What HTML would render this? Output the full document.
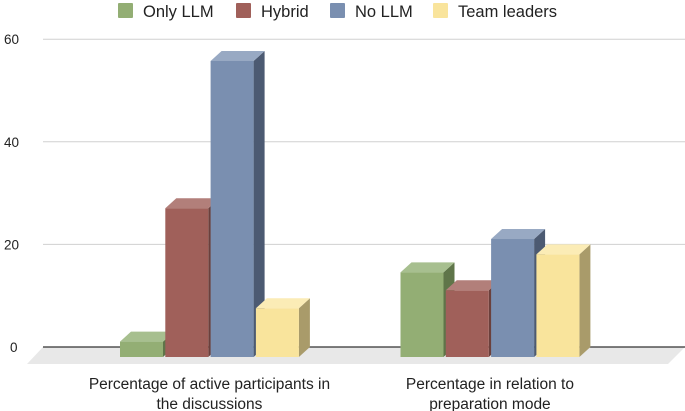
<!DOCTYPE html>
<html><head><meta charset="utf-8"><style>
html,body{margin:0;padding:0;background:#fff;}
svg{display:block;font-family:"Liberation Sans",sans-serif;}
</style></head><body>
<svg id="chart" width="685" height="411" viewBox="0 0 685 411"></svg>
<script>
const categories = ["Percentage of active participants in|the discussions", "Percentage in relation to|preparation mode"];
const seriesNames = ["Only LLM", "Hybrid", "No LLM", "Team leaders"];
const onlyLLM = [3, 16.5];
const hybrid = [29, 13];
const noLLM = [57.7, 23];
const teamLeaders = [9.5, 20];
const yTicks = [0, 20, 40, 60];

const series = [onlyLLM, hybrid, noLLM, teamLeaders];
const colors = [
  {f:"#93ae74", t:"#a7bf8f", s:"#5f7549"},
  {f:"#a0605a", t:"#b27f7a", s:"#6b403c"},
  {f:"#7a8fb0", t:"#98a9c3", s:"#4c5a72"},
  {f:"#f9e49c", t:"#fbecb6", s:"#a99b6a"}
];
const NS = "http://www.w3.org/2000/svg";
const svg = document.getElementById("chart");
function el(tag, attrs, parent){const e=document.createElementNS(NS,tag);for(const k in attrs)e.setAttribute(k,attrs[k]);(parent||svg).appendChild(e);return e;}
const y0 = 347, pxPer = 5.13, dx = 11, dy = 10;
const yScale = v => y0 - v*pxPer;
const groupStart = [120, 400.5], barW = 43, step = 45.3;
const xScale = (g, s) => groupStart[g] + s*step;

// floor
const floor = el("polygon",{points:"43,347 685,347 668,364 27,364",fill:"#e8e8e8"});


// grid & ticks
yTicks.forEach(t=>{
  const y=yScale(t);
  const l=el("line",{x1:43,x2:685,y1:y,y2:y,stroke:t===0?"#333":"#d0d0d0","stroke-width":t===0?1.3:1});
  
  
  const tx=el("text",{x:t===0?10:4,y:y+5,"font-size":"13.5",fill:"#222"});
  tx.textContent=t;
  
  
});
// bars
categories.forEach((c,g)=>{
  series.forEach((arr,s)=>{
    const v=arr[g], x=xScale(g,s), col=colors[s];
    const ft=yScale(v)+dy, fb=y0+dy;
    const grp=el("g",{});
    
    
    el("polygon",{points:`${x+barW},${ft} ${x+barW+dx},${ft-dy} ${x+barW+dx},${fb-dy} ${x+barW},${fb}`,fill:col.s},grp);
    el("polygon",{points:`${x},${ft} ${x+dx},${ft-dy} ${x+barW+dx},${ft-dy} ${x+barW},${ft}`,fill:col.t},grp);
    el("rect",{x:x,y:ft,width:barW,height:fb-ft,fill:col.f},grp);
  });
  const cx=xScale(g,0)+(step*3+barW)/2;
  c.split("|").forEach((line,i)=>{
    const t=el("text",{x:cx,y:389+i*20,"text-anchor":"middle","font-size":"15.5",fill:"#222"});
    t.textContent=line;
    
    
  });
});
// legend
const legX=[118,236,330,433];
seriesNames.forEach((n,i)=>{
  const g=el("g",{});
  
  
  el("rect",{x:legX[i],y:3,width:15,height:15,fill:colors[i].f,rx:1},g);
  const t=el("text",{x:legX[i]+25,y:17,"font-size":"16.5",fill:"#222"},g);
  t.textContent=n;
});
</script>
</body></html>
